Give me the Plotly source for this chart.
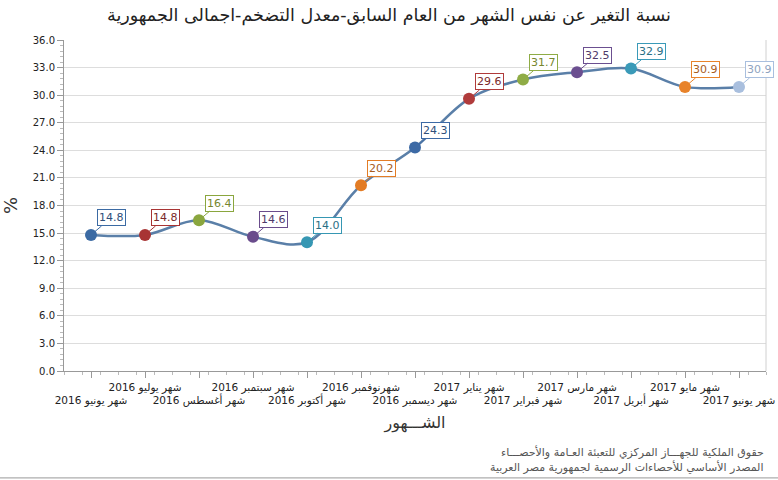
import plotly.graph_objects as go

months = ["شهر يونيو 2016", "شهر يوليو 2016", "شهر أغسطس 2016", "شهر سبتمبر 2016",
          "شهر أكتوبر 2016", "شهرنوفمبر 2016", "شهر ديسمبر 2016", "شهر يناير 2017",
          "شهر فبراير 2017", "شهر مارس 2017", "شهر أبريل 2017", "شهر مايو 2017",
          "شهر يونيو 2017"]
values = [14.8, 14.8, 16.4, 14.6, 14.0, 20.2, 24.3, 29.6, 31.7, 32.5, 32.9, 30.9, 30.9]
marker_colors = ["#3b6aa3", "#a83434", "#8aa63e", "#6a4c8c", "#3697b3", "#e37c25",
                 "#3d6aa5", "#b03b3b", "#8fac46", "#6b4f90", "#3a9ab8", "#e8832a", "#a9bfde"]
label_colors = ["#2f4f7a", "#7a2a2a", "#76862e", "#4f3a6a", "#2a6f85", "#a85c1b",
                "#2f4f7a", "#7a2a2a", "#76862e", "#4f3a6a", "#2a6f85", "#a85c1b", "#8ea3c0"]
y_ticks = [0, 3, 6, 9, 12, 15, 18, 21, 24, 27, 30, 33, 36]

title_text = "نسبة التغير عن نفس الشهر من العام السابق-معدل التضخم-اجمالى الجمهورية"
x_title = "الشـــهور"
y_title = "%"
footer1 = "حقوق الملكية للجهـــاز المركزي للتعبئة العـامة والأحصـــاء"
footer2 = "المصدر الأساسي للأحصاءات الرسمية لجمهورية مصر العربية"

FONT = "DejaVu Sans"
idx = list(range(len(months)))
tick_text = [("<br>" + m) if i % 2 == 0 else m for i, m in enumerate(months)]

fig = go.Figure()
fig.add_trace(go.Scatter(
    x=idx, y=values, mode="lines+markers",
    line=dict(color="#5a7fa8", width=2.5, shape="spline", smoothing=1.0),
    marker=dict(size=12, color=marker_colors, line=dict(width=0)),
    hoverinfo="skip", showlegend=False,
))

for i, v in enumerate(values):
    fig.add_annotation(
        x=i, y=v, xref="x", yref="y",
        text=f"{v:.1f}", showarrow=True, arrowhead=0, arrowwidth=1,
        arrowcolor=marker_colors[i], ax=20, ay=-17,
        font=dict(family=FONT, size=11, color=label_colors[i]),
        bgcolor="white", bordercolor=marker_colors[i], borderwidth=1, borderpad=1,
    )

fig.add_annotation(text=footer1, xref="paper", yref="paper", x=1.0, y=-0.245,
                   xanchor="right", yanchor="middle", showarrow=False,
                   font=dict(family=FONT, size=11, color="#555555"))
fig.add_annotation(text=footer2, xref="paper", yref="paper", x=1.0, y=-0.29,
                   xanchor="right", yanchor="middle", showarrow=False,
                   font=dict(family=FONT, size=11, color="#555555"))

fig.add_shape(type="line", xref="paper", yref="y", x0=1, x1=1, y0=0, y1=36,
              line=dict(color="#d0d0d0", width=1))
fig.add_shape(type="line", xref="paper", yref="paper", x0=-0.1, x1=1.02, y0=-0.323, y1=-0.323,
              line=dict(color="#999999", width=1))

fig.update_layout(
    width=778, height=480,
    margin=dict(l=64, r=12, t=40, b=109, autoexpand=False),
    paper_bgcolor="white", plot_bgcolor="white",
    title=dict(text=title_text, x=0.5, xanchor="center", y=0.968, yanchor="middle",
               font=dict(family=FONT, size=17.5, color="#222222")),
    xaxis=dict(
        range=[-0.5, 12.5], tickmode="array", tickvals=idx, ticktext=tick_text,
        tickangle=0, ticks="outside", ticklen=6, tickcolor="#999999", automargin=False,
        tickfont=dict(family=FONT, size=10.5, color="#222222"),
        showline=True, linecolor="#999999", linewidth=1, showgrid=False, zeroline=False,
        minor=dict(ticks="outside", ticklen=3, tickcolor="#bbbbbb", dtick=1/3, tick0=-0.5),
        title=dict(text=x_title, font=dict(family=FONT, size=16, color="#333333"), standoff=10),
    ),
    yaxis=dict(
        range=[0, 36], tickmode="array", tickvals=y_ticks,
        ticktext=[f"{t:.1f}" for t in y_ticks], automargin=False,
        ticks="outside", ticklen=6, tickcolor="#999999",
        tickfont=dict(family=FONT, size=10, color="#222222"),
        showline=True, linecolor="#999999", linewidth=1,
        showgrid=True, gridcolor="#dddddd", gridwidth=1, zeroline=False,
        minor=dict(ticks="outside", ticklen=3, tickcolor="#bbbbbb", dtick=0.6, tick0=0, showgrid=False),
        title=dict(text=y_title, font=dict(family=FONT, size=18, color="#333333"), standoff=10),
    ),
)

fig.write_html("out.html")
